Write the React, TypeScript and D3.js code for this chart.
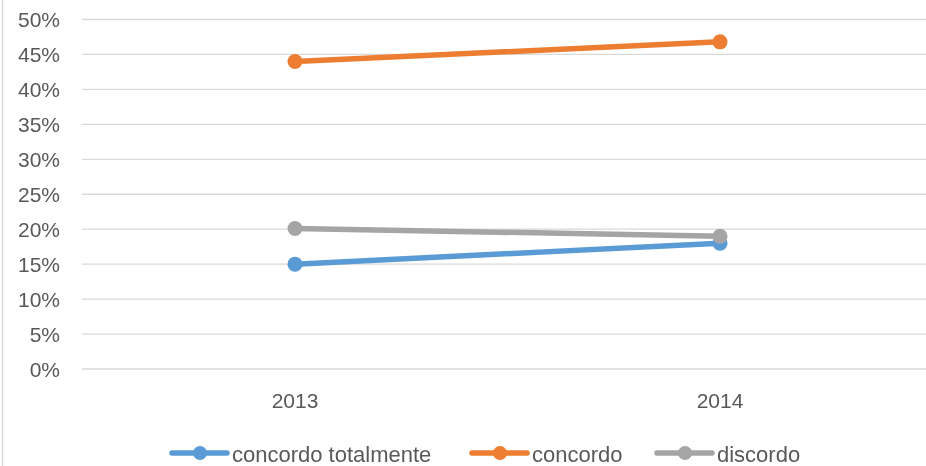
import { FC, useEffect, useRef } from 'react';
import * as d3 from 'd3';

const years = ['2013', '2014'];
const seriesNames = ['concordo totalmente', 'concordo', 'discordo'];
const seriesColors = ['#5b9bd5', '#ed7d31', '#a5a5a5'];
const totalmenteValues = [0.15, 0.18];
const concordoValues = [0.44, 0.468];
const discordoValues = [0.201, 0.19];
const yTicks = [0, 0.05, 0.1, 0.15, 0.2, 0.25, 0.3, 0.35, 0.4, 0.45, 0.5];

const App: FC = () => {
  const chartRef = useRef<SVGSVGElement>(null);

  useEffect(() => {
    const width = 926;
    const height = 466;
    const svg = d3.select(chartRef.current);
    svg.selectAll('*').remove();

    const font = '"Liberation Sans", Arial, sans-serif';
    const textColor = '#595959';

    // left chart border
    svg
      .append('line')
      .attr('x1', 2.5)
      .attr('x2', 2.5)
      .attr('y1', 0)
      .attr('y2', height)
      .attr('stroke', '#d9d9d9')
      .attr('stroke-width', 1.5);

    const x = d3.scaleBand().domain(years).range([82.5, 932.5]);
    const y = d3.scaleLinear().domain([0, 0.5]).range([369, 19.5]);

    // gridlines
    svg
      .append('g')
      .selectAll('line')
      .data(yTicks)
      .enter()
      .append('line')
      .attr('x1', 82)
      .attr('x2', width)
      .attr('y1', (d) => y(d))
      .attr('y2', (d) => y(d))
      .attr('stroke', '#d9d9d9')
      .attr('stroke-width', 1.3);

    // y labels
    svg
      .append('g')
      .selectAll('text')
      .data(yTicks)
      .enter()
      .append('text')
      .attr('x', 60)
      .attr('y', (d) => y(d) + 7.8)
      .attr('text-anchor', 'end')
      .attr('font-family', font)
      .attr('font-size', 21)
      .attr('fill', textColor)
      .text((d) => d3.format('.0%')(d));

    // x labels
    svg
      .append('g')
      .selectAll('text')
      .data(years)
      .enter()
      .append('text')
      .attr('x', (d) => x(d)! + x.bandwidth() / 2)
      .attr('y', 408)
      .attr('text-anchor', 'middle')
      .attr('font-family', font)
      .attr('font-size', 21)
      .attr('fill', textColor)
      .text((d) => d);

    const series = [totalmenteValues, concordoValues, discordoValues].map((values, i) => ({
      name: seriesNames[i],
      color: seriesColors[i],
      points: values.map((v, j) => ({ year: years[j], value: v })),
    }));

    const line = d3
      .line<{ year: string; value: number }>()
      .x((d) => x(d.year)! + x.bandwidth() / 2)
      .y((d) => y(d.value));

    // draw from back to front: totalmente, concordo, discordo
    series.forEach((s) => {
      const g = svg.append('g');
      g.append('path')
        .attr('d', line(s.points))
        .attr('fill', 'none')
        .attr('stroke', s.color)
        .attr('stroke-width', 5.5)
        .attr('stroke-linecap', 'round');
      g.selectAll('circle')
        .data(s.points)
        .enter()
        .append('circle')
        .attr('cx', (d) => x(d.year)! + x.bandwidth() / 2)
        .attr('cy', (d) => y(d.value))
        .attr('r', 7.5)
        .attr('fill', s.color);
    });

    // legend
    const legendX = [172, 472, 657];
    const legend = svg
      .append('g')
      .selectAll('g')
      .data(series)
      .enter()
      .append('g')
      .attr('transform', (_d, i) => `translate(${legendX[i]},453)`);

    legend
      .append('line')
      .attr('x1', 0)
      .attr('x2', 55)
      .attr('stroke', (d) => d.color)
      .attr('stroke-width', 5.5)
      .attr('stroke-linecap', 'round');

    legend
      .append('circle')
      .attr('cx', 28)
      .attr('r', 7)
      .attr('fill', (d) => d.color);

    legend
      .append('text')
      .attr('x', 60)
      .attr('y', 8.5)
      .attr('font-family', font)
      .attr('font-size', 22)
      .attr('fill', textColor)
      .text((d) => d.name);
  }, []);

  return (
    <div style={{ position: 'fixed', top: 0, left: 0 }}>
      <svg ref={chartRef} width={926} height={466} style={{ display: 'block' }} />
    </div>
  );
};

export default App;
